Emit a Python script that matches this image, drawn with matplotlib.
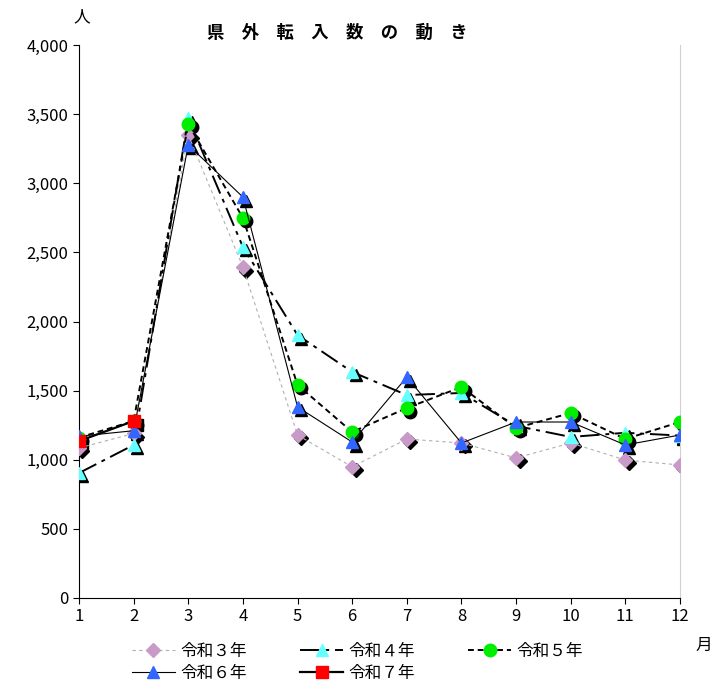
import matplotlib
matplotlib.use("Agg")
import matplotlib.pyplot as plt
import matplotlib.transforms as mtransforms
from matplotlib.ticker import FuncFormatter

plt.rcParams['font.family'] = ['Noto Sans CJK JP', 'DejaVu Sans']

months = list(range(1, 13))
r3 = [1085, 1190, 3350, 2394, 1179, 948, 1150, 1121, 1013, 1121, 998, 962]
r4 = [904, 1107, 3470, 2539, 1902, 1635, 1468, 1483, 1245, 1165, 1195, 1175]
r5 = [1160, 1280, 3429, 2749, 1541, 1201, 1374, 1526, 1230, 1338, 1150, 1273]
r6 = [1170, 1210, 3277, 2900, 1382, 1128, 1598, 1121, 1273, 1273, 1107, 1179]
r7 = [1135, 1280]
labels = ['令和３年', '令和４年', '令和５年', '令和６年', '令和７年']

fig = plt.figure(figsize=(7.15, 6.84), dpi=100)
ax = fig.add_axes([79/715, 1-598/684, (680-79)/715, (598-45)/684])

series = [
    (r3, dict(color='#b0b0b0', lw=0.8, ls=(0, (3, 3)), marker='D', mfc='#c89ac8', ms=7)),
    (r4, dict(color='black', lw=1.4, ls=(0, (10, 3, 2, 3)), marker='^', mfc='#66ffff', ms=9)),
    (r5, dict(color='black', lw=1.4, ls=(0, (3, 2)), marker='o', mfc='#00ee00', ms=9)),
    (r6, dict(color='black', lw=0.8, ls='-', marker='^', mfc='#3366ff', ms=9)),
    (r7, dict(color='black', lw=1.6, ls='-', marker='s', mfc='#ff0000', ms=9)),
]
shadow = mtransforms.offset_copy(ax.transData, fig=fig, x=2.5, y=-2.5, units='points')
handles = []
for (vals, st), lab in zip(series, labels):
    x = months[:len(vals)]
    ax.plot(x, vals, ls='none', marker=st['marker'], ms=st['ms'], mfc='black',
            mec='black', transform=shadow, zorder=2)
for (vals, st), lab in zip(series, labels):
    x = months[:len(vals)]
    h, = ax.plot(x, vals, color=st['color'], lw=st['lw'], ls=st['ls'], marker=st['marker'],
                 ms=st['ms'], mfc=st['mfc'], mec=st['mfc'], label=lab, zorder=3)
    handles.append(h)

ax.set_xlim(1, 12)
ax.set_ylim(0, 4000)
ax.set_xticks(months)
ax.set_yticks(range(0, 4001, 500))
ax.yaxis.set_major_formatter(FuncFormatter(lambda v, p: f"{int(v):,}"))
ax.tick_params(labelsize=12, direction='out', length=4)
ax.spines['top'].set_visible(False)
ax.spines['right'].set_color('#d0d0d0')
ax.grid(False)

fig.text(337/715, 1-33/684, '県　外　転　入　数　の　動　き', ha='center', va='center',
         fontsize=12.5, fontweight='bold')
fig.text(82/715, 1-17/684, '人', ha='center', va='center', fontsize=12)
fig.text(704/715, 1-645/684, '月', ha='center', va='center', fontsize=12)

order = [0, 3, 1, 4, 2]
fig.legend(handles=[handles[i] for i in order], loc='upper left',
           bbox_to_anchor=(125/715, 1-636/684),
           ncol=3, frameon=False, fontsize=12, handlelength=2.6,
           columnspacing=3.2, labelspacing=0.3, borderaxespad=0, handletextpad=0.3)

fig.savefig('out.png', dpi=100)
